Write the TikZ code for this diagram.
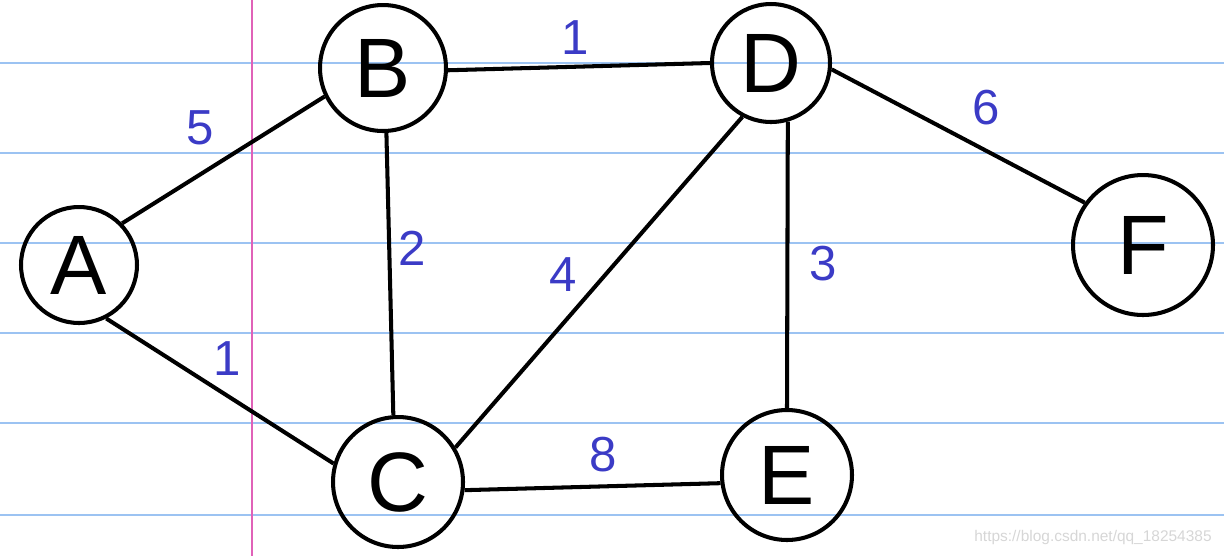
\documentclass[tikz,border=0pt]{standalone}
\usepackage{fontspec}
\setmainfont{Liberation Sans}
\usepackage{xcolor}
\usepackage{tikz}
\usetikzlibrary{positioning,calc}
\definecolor{rulecol}{HTML}{9CC3F2}
\definecolor{margincol}{HTML}{E062B8}
\definecolor{inkcol}{HTML}{3B3BC6}
\definecolor{markcol}{HTML}{D6D6D6}

\begin{document}
\begin{tikzpicture}[x=0.02cm,y=-0.02cm,
  v/.style={circle,draw,line width=2.3pt,inner sep=0pt,font=\fontsize{48}{52}\selectfont},
  wt/.style={font=\fontsize{28}{30}\selectfont,text=inkcol,inner sep=0pt},
  e/.style={line width=2.3pt},
  paper/.style={line width=1.1pt}]
 \useasboundingbox (0,0) rectangle (1224,556);
 % ruled paper
 \foreach \yy in {63,153,243,333,423,515}
   \draw[paper,rulecol] (0,\yy) -- (1224,\yy);
 \draw[paper,margincol] (252,0) -- (252,556);
 % vertices
 \node[v,minimum size=2.32cm] (A) at (79,265) {A};
 \node[v,minimum size=2.52cm] (B) at (383,68) {B};
 \node[v,minimum size=2.6cm]  (C) at (398,482) {C};
 \node[v,minimum size=2.36cm] (D) at (771,63) {D};
 \node[v,minimum size=2.6cm]  (E) at (787,475) {E};
 \node[v,minimum size=2.8cm]  (F) at (1143,245) {F};
 % edges
 \draw[e] (A.44) -- (B.206);
 \draw[e] (A.-63) -- (C.164);
 \draw[e] (B.-2) -- (D.west);
 \draw[e] (B.-87) -- (C.94);
 \draw[e] (C.31) -- (D.-118);
 \draw[e] (C.-7) -- (E.187);
 \draw[e] (D.-74) -- (E.north);
 \draw[e] (D.-6) -- (F.144);
 % weights
 \node[wt] (wab) at (200,128) {5};
 \node[wt] (wac) at (227,359) {1};
 \node[wt] (wbd) at (575,38) {1};
 \node[wt] (wbc) at (412,248) {2};
 \node[wt] (wcd) at (563,275) {4};
 \node[wt] (wce) at (603,455) {8};
 \node[wt] (wde) at (823,264) {3};
 \node[wt] (wdf) at (986,108) {6};
 \node[font=\fontsize{8.8}{10}\selectfont,text=markcol,inner sep=0pt] (url) at (1093,537) {https://blog.csdn.net/qq\_18254385};
\end{tikzpicture}
\end{document}
